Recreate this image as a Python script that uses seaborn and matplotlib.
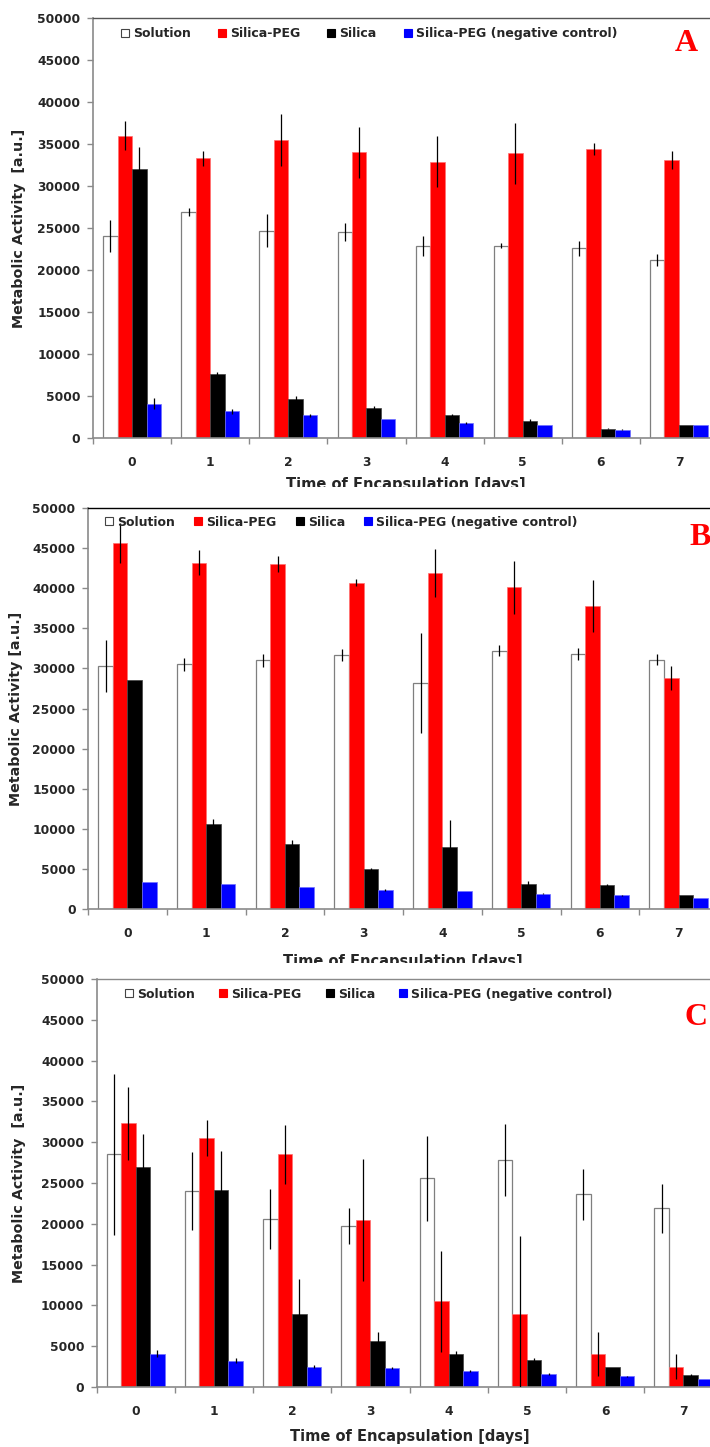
import numpy as np
import pandas as pd
import matplotlib
matplotlib.use("Agg")
import matplotlib.pyplot as plt
import seaborn as sns
from matplotlib.lines import Line2D
from matplotlib.patches import Rectangle
from matplotlib.ticker import FixedLocator

# ---------------------------------------------------------------- data
days = ["0", "1", "2", "3", "4", "5", "6", "7"]
series = ["Solution", "Silica-PEG", "Silica", "Silica-PEG (negative control)"]

# panel A
a_solution = [24100, 26900, 24700, 24500, 22900, 22900, 22600, 21200]
a_solution_err = [1900, 500, 2000, 1050, 1200, 320, 900, 700]
a_peg = [36000, 33300, 35500, 34000, 32900, 33900, 34400, 33100]
a_peg_err = [1700, 900, 3100, 3000, 3050, 3650, 750, 1100]
a_silica = [32000, 7600, 4700, 3600, 2700, 2050, 1100, 1500]
a_silica_err = [2600, 300, 250, 200, 150, 200, 50, 0]
a_neg = [4100, 3200, 2700, 2300, 1800, 1500, 1000, 1600]
a_neg_err = [700, 300, 150, 0, 100, 0, 50, 0]

# panel B
b_solution = [30300, 30500, 31000, 31700, 28200, 32200, 31800, 31100]
b_solution_err = [3200, 800, 800, 750, 6200, 700, 700, 650]
b_peg = [45600, 43200, 43000, 40700, 41900, 40100, 37800, 28800]
b_peg_err = [2500, 1600, 1000, 450, 3000, 3300, 3250, 1500]
b_silica = [28600, 10600, 8100, 5000, 7700, 3100, 2950, 1700]
b_silica_err = [0, 600, 550, 150, 3400, 350, 200, 0]
b_neg = [3400, 3100, 2800, 2400, 2300, 1900, 1700, 1400]
b_neg_err = [0, 0, 0, 100, 0, 50, 100, 0]

# panel C
c_solution = [28500, 24000, 20600, 19700, 25600, 27800, 23600, 21900]
c_solution_err = [9900, 4800, 3700, 2200, 5200, 4400, 3100, 3000]
c_peg = [32300, 30500, 28500, 20500, 10500, 9000, 4000, 2500]
c_peg_err = [4500, 2200, 3600, 7500, 6200, 9500, 2700, 1500]
c_silica = [27000, 24100, 8900, 5600, 4000, 3300, 2400, 1500]
c_silica_err = [4000, 4800, 4300, 1200, 400, 200, 0, 100]
c_neg = [4100, 3200, 2500, 2300, 1950, 1600, 1300, 1000]
c_neg_err = [400, 300, 150, 100, 100, 100, 100, 0]

yticks = list(range(0, 50001, 5000))

# ---------------------------------------------------------------- style
sns.set_style("white")
plt.rcParams["font.family"] = ["DejaVu Sans"]
plt.rcParams["font.weight"] = "bold"

fill = {"Solution": "#ffffff", "Silica-PEG": "#ff0000",
        "Silica": "#000000", "Silica-PEG (negative control)": "#0000ff"}
edge = {"Solution": "#7f7f7f", "Silica-PEG": "#ff7070",
        "Silica": "#404040", "Silica-PEG (negative control)": "#7070ff"}
axis_grey = "#8a8a8a"

W, H = 710, 1447
fig = plt.figure(figsize=(W / 100, H / 100), dpi=100)


def px_rect(left, top, width, bottom):
    """Axes rectangle from pixel edges (origin at the top-left corner)."""
    return [left / W, 1 - bottom / H, width / W, (bottom - top) / H]


panels = [
    dict(vals=[a_solution, a_peg, a_silica, a_neg],
         errs=[a_solution_err, a_peg_err, a_silica_err, a_neg_err],
         rect=px_rect(93, 18, 625, 438), ylabel="Metabolic Activity  [a.u.]",
         ylab_x=-0.118, xlab_y=-0.1205, leg=(0.0444, 0.962), colsp=2.2,
         top="#555555", letter="A", letter_xy=(675, 51)),
    dict(vals=[b_solution, b_peg, b_silica, b_neg],
         errs=[b_solution_err, b_peg_err, b_silica_err, b_neg_err],
         rect=px_rect(88, 508, 630, 909), ylabel="Metabolic Activity [a.u.]",
         ylab_x=-0.114, xlab_y=-0.141, leg=(0.0274, 0.965), colsp=1.55,
         top="#000000", letter="B", letter_xy=(689, 545)),
    dict(vals=[c_solution, c_peg, c_silica, c_neg],
         errs=[c_solution_err, c_peg_err, c_silica_err, c_neg_err],
         rect=px_rect(96.5, 979, 626, 1387), ylabel="Metabolic Activity  [a.u.]",
         ylab_x=-0.124, xlab_y=-0.1314, leg=(0.0459, 0.963), colsp=1.95,
         top="#8a8a8a", letter="C", letter_xy=(684, 1025)),
]

for p in panels:
    ax = fig.add_axes(p["rect"])
    df = pd.DataFrame(
        [(d, s, v) for s, vals in zip(series, p["vals"]) for d, v in zip(days, vals)],
        columns=["day", "series", "value"],
    )
    sns.barplot(data=df, x="day", y="value", hue="series", order=days,
                hue_order=series, palette=fill, saturation=1, width=0.74,
                errorbar=None, legend=False, ax=ax)

    # bar outlines and error bars, one container per series
    for cont, s, errs in zip(ax.containers, series, p["errs"]):
        for bar in cont:
            bar.set_edgecolor(edge[s])
            bar.set_linewidth(0.9 if s == "Solution" else 0.5)
        xs = [bar.get_x() + bar.get_width() / 2 for bar in cont]
        ax.errorbar(xs, cont.datavalues, yerr=errs, fmt="none",
                    ecolor="black", elinewidth=0.9, capsize=0, zorder=4)

    ax.set_xlim(-0.5, len(days) - 0.5)
    ax.set_ylim(0, 50000)
    ax.set_yticks(yticks)
    ax.set_yticklabels([str(t) for t in yticks])
    ax.xaxis.set_minor_locator(FixedLocator(np.arange(-0.5, len(days), 1.0)))

    ax.tick_params(axis="y", which="major", left=True, direction="out",
                   length=4, width=1, color=axis_grey, pad=5, labelsize=8.8)
    ax.tick_params(axis="x", which="major", bottom=True, length=0, pad=13,
                   labelsize=8.8)
    ax.tick_params(axis="x", which="minor", bottom=True, direction="out",
                   length=4, width=1, color=axis_grey)

    for side in ("left", "bottom"):
        ax.spines[side].set_color(axis_grey)
        ax.spines[side].set_linewidth(1.2)
    ax.spines["top"].set_color(p["top"])
    ax.spines["top"].set_linewidth(1.0)
    ax.spines["right"].set_visible(False)

    ax.set_ylabel(p["ylabel"], fontsize=10.3, fontweight="bold")
    ax.yaxis.set_label_coords(p["ylab_x"], 0.5)
    ax.yaxis.label.set_va("center")
    ax.set_xlabel("Time of Encapsulation [days]", fontsize=10.5, fontweight="bold")
    ax.xaxis.set_label_coords(0.5, p["xlab_y"])
    ax.xaxis.label.set_va("baseline")

    handles = [Line2D([], [], marker="s", linestyle="none", markersize=5.2,
                      markerfacecolor=fill[s],
                      markeredgecolor="#444444" if s == "Solution" else fill[s],
                      markeredgewidth=0.8) for s in series]
    ax.legend(handles, series, ncol=4, loc="center left",
              bbox_to_anchor=p["leg"], frameon=False, handlelength=0.6,
              handletextpad=0.35, columnspacing=p["colsp"], borderpad=0,
              borderaxespad=0, prop={"size": 9, "weight": "bold"})

    lx, ly = p["letter_xy"]
    fig.text(lx / W, 1 - ly / H, p["letter"], color="#ff0000",
             fontsize=23, fontweight="bold", va="baseline", ha="left",
             family=["Liberation Serif", "DejaVu Serif"])

# the panels are stacked tightly, so the lower edge of the upper x titles is clipped
for y_top, y_bot in ((487, 503), (963, 973)):
    fig.add_artist(Rectangle((0, 1 - y_bot / H), 1, (y_bot - y_top) / H,
                             transform=fig.transFigure, facecolor="white",
                             edgecolor="none", zorder=5))

fig.savefig("out.png", dpi=100)
